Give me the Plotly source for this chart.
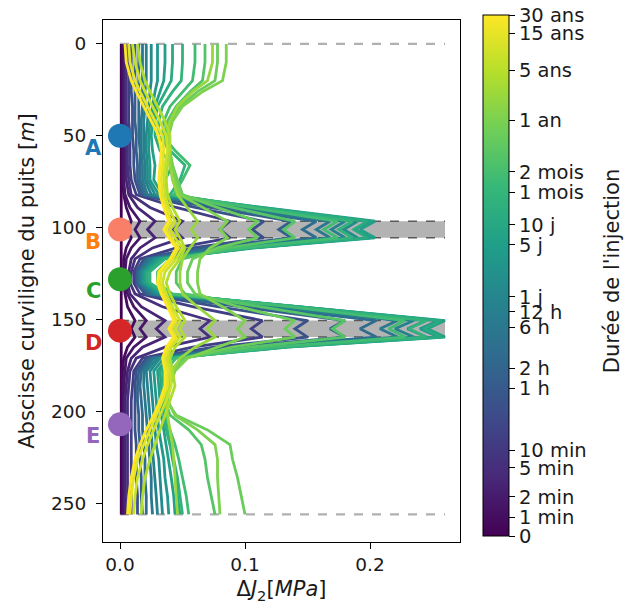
import plotly.graph_objects as go
from plotly.colors import sample_colorscale

# ---------------- data ----------------
depth = [0, 10, 20, 26, 34, 42, 50, 58, 66, 74,
         82, 89, 96.5, 101, 105.5, 111, 117, 124, 130, 136,
         143, 150.5, 155, 159.5, 165, 171, 178, 186, 194, 202,
         210, 218, 226, 236, 246, 256]

# colour position (0 = start, 1 = 30 years) of each profile
time_frac = [0.00, 0.03, 0.06, 0.10, 0.14, 0.19, 0.25, 0.30, 0.35, 0.40,
             0.44, 0.48, 0.53, 0.57, 0.61, 0.65, 0.69, 0.73, 0.77, 0.80,
             0.84, 0.88, 0.92, 0.96, 1.00]

p00 = [.001, .001, .001, .001, .001, .001, .001, .001, .001, .001,
       .001, .001, .001, .001, .001, .001, .001, .001, .001, .001,
       .001, .001, .001, .001, .001, .001, .001, .001, .001, .001,
       .001, .001, .001, .001, .001, .001]
p01 = [.002, .002, .002, .002, .002, .002, .002, .002, .002, .002,
       .003, .005, .009, .006, .009, .005, .003, .003, .003, .004,
       .006, .012, .009, .012, .006, .003, .002, .002, .002, .002,
       .002, .002, .002, .002, .002, .002]
p02 = [.003, .003, .003, .003, .003, .003, .003, .003, .003, .003,
       .004, .008, .016, .012, .016, .009, .005, .004, .004, .006,
       .011, .021, .016, .021, .011, .005, .004, .003, .003, .003,
       .003, .003, .003, .003, .003, .003]
p03 = [.004, .004, .004, .004, .004, .004, .004, .005, .005, .005,
       .007, .014, .028, .022, .028, .016, .009, .007, .006, .008,
       .017, .036, .029, .036, .018, .009, .006, .005, .004, .004,
       .004, .004, .004, .004, .004, .004]
p04 = [.005, .005, .005, .005, .005, .005, .006, .006, .006, .007,
       .009, .024, .050, .043, .050, .026, .012, .009, .008, .012,
       .034, .072, .064, .072, .036, .013, .008, .007, .006, .006,
       .006, .006, .006, .006, .006, .006]
p05 = [.007, .007, .007, .007, .007, .007, .008, .008, .008, .009,
       .013, .045, .088, .080, .088, .045, .016, .011, .011, .016,
       .058, .114, .105, .114, .058, .018, .011, .010, .009, .009,
       .009, .009, .009, .009, .009, .009]
p06 = [.009, .009, .009, .009, .010, .010, .010, .011, .011, .012,
       .016, .060, .115, .106, .115, .058, .019, .013, .013, .020,
       .078, .150, .140, .150, .075, .021, .013, .012, .012, .012,
       .012, .013, .013, .013, .014, .014]
p07 = [.012, .012, .012, .012, .012, .012, .013, .013, .014, .014,
       .018, .072, .137, .127, .137, .068, .021, .014, .014, .022,
       .095, .180, .168, .180, .090, .023, .015, .014, .014, .015,
       .015, .016, .016, .017, .017, .018]
p08 = [.015, .015, .015, .015, .015, .015, .015, .016, .016, .016,
       .020, .082, .157, .146, .157, .078, .022, .015, .015, .024,
       .108, .205, .192, .205, .102, .025, .017, .016, .017, .018,
       .018, .019, .020, .020, .021, .021]
p09 = [.018, .018, .018, .018, .018, .017, .017, .017, .018, .018,
       .022, .090, .168, .157, .168, .085, .024, .016, .016, .026,
       .118, .222, .208, .222, .110, .027, .019, .019, .020, .021,
       .022, .023, .024, .025, .025, .026]
p10 = [.021, .021, .021, .020, .020, .019, .019, .019, .020, .020,
       .025, .097, .180, .169, .180, .092, .026, .017, .017, .028,
       .126, .235, .220, .235, .118, .030, .021, .022, .023, .024,
       .025, .026, .027, .028, .029, .030]
p11 = [.025, .025, .025, .024, .023, .022, .021, .021, .022, .022,
       .028, .104, .190, .179, .190, .098, .028, .018, .018, .030,
       .134, .245, .230, .245, .125, .032, .024, .025, .026, .027,
       .028, .029, .031, .032, .033, .034]
p12 = [.030, .030, .030, .028, .026, .024, .023, .023, .024, .024,
       .031, .110, .200, .188, .200, .104, .030, .019, .019, .032,
       .142, .255, .240, .255, .130, .035, .027, .028, .029, .030,
       .031, .033, .035, .036, .038, .039]
p13 = [.036, .036, .035, .032, .028, .026, .025, .026, .028, .027,
       .034, .114, .204, .192, .204, .108, .032, .020, .020, .034,
       .146, .260, .246, .260, .134, .038, .030, .031, .032, .033,
       .035, .037, .039, .041, .043, .044]
p14 = [.042, .042, .041, .036, .030, .028, .028, .032, .042, .036,
       .037, .112, .198, .187, .198, .106, .034, .022, .022, .036,
       .145, .257, .243, .257, .133, .040, .032, .033, .034, .035,
       .037, .040, .042, .045, .046, .048]
p15 = [.050, .050, .049, .042, .034, .031, .031, .040, .052, .048,
       .040, .108, .186, .175, .186, .102, .036, .024, .024, .038,
       .140, .245, .231, .245, .128, .042, .034, .035, .036, .036,
       .038, .040, .043, .046, .048, .050]
p16 = [.060, .060, .058, .050, .040, .035, .034, .044, .056, .050,
       .043, .104, .174, .163, .174, .098, .040, .030, .030, .042,
       .135, .228, .215, .228, .122, .045, .036, .036, .036, .037,
       .040, .044, .047, .050, .053, .055]
p17 = [.068, .068, .066, .056, .045, .038, .036, .038, .042, .045,
       .046, .090, .140, .131, .140, .086, .050, .045, .045, .052,
       .112, .180, .170, .180, .104, .050, .040, .038, .036, .040,
       .055, .065, .068, .070, .073, .076]
p18 = [.078, .078, .076, .062, .048, .040, .038, .039, .042, .046,
       .050, .078, .110, .103, .110, .078, .058, .054, .054, .060,
       .095, .140, .132, .140, .090, .052, .042, .039, .037, .045,
       .070, .088, .090, .094, .097, .100]
p19 = [.085, .085, .082, .066, .050, .042, .039, .040, .042, .044,
       .048, .066, .086, .080, .086, .072, .064, .062, .062, .064,
       .082, .100, .094, .100, .078, .054, .044, .040, .038, .044,
       .062, .076, .078, .078, .079, .080]
p20 = [.074, .074, .070, .058, .046, .040, .038, .038, .040, .042,
       .046, .054, .062, .057, .062, .056, .050, .048, .048, .050,
       .062, .076, .070, .076, .060, .048, .042, .039, .037, .038,
       .040, .042, .043, .044, .045, .046]
p21 = [.014, .016, .020, .024, .030, .036, .040, .040, .038, .037,
       .038, .042, .048, .044, .048, .052, .048, .040, .037, .040,
       .045, .052, .048, .052, .044, .040, .042, .044, .040, .036,
       .032, .028, .024, .020, .018, .017]
p22 = [.010, .012, .016, .020, .026, .032, .037, .038, .036, .035,
       .036, .039, .044, .040, .044, .050, .045, .036, .034, .037,
       .042, .048, .044, .048, .041, .038, .040, .041, .037, .032,
       .027, .022, .018, .014, .012, .011]
p23 = [.007, .008, .012, .016, .022, .028, .034, .035, .034, .033,
       .034, .037, .041, .037, .041, .047, .042, .033, .032, .035,
       .040, .045, .041, .045, .039, .036, .038, .038, .034, .029,
       .024, .019, .014, .011, .009, .008]
p24 = [.004, .005, .009, .013, .019, .025, .031, .033, .032, .031,
       .032, .035, .039, .035, .039, .045, .040, .031, .030, .033,
       .038, .043, .039, .043, .037, .034, .036, .036, .032, .027,
       .021, .016, .012, .009, .007, .006]

profiles = [p00, p01, p02, p03, p04, p05, p06, p07, p08, p09, p10, p11, p12,
            p13, p14, p15, p16, p17, p18, p19, p20, p21, p22, p23, p24]

cbar_tick_pos = [0.0, 0.036, 0.075, 0.131, 0.165, 0.284, 0.322, 0.401, 0.430,
                 0.459, 0.559, 0.597, 0.660, 0.699, 0.798, 0.894, 0.965, 1.0]
cbar_tick_text = ["0", "1 min", "2 min", "5 min", "10 min", "1 h", "2 h", "6 h",
                  "12 h", "1 j", "5 j", "10 j", "1 mois", "2 mois", "1 an",
                  "5 ans", "15 ans", "30 ans"]
cbar_title = "Durée de l'injection"

point_labels = ["A", "B", "C", "D", "E"]
point_depths = [50, 101, 128, 156, 207]
point_colors = ["#1f77b4", "#fa7f68", "#2ca02c", "#d62728", "#9467bd"]
label_colors = ["#1f77b4", "#ff7f0e", "#2ca02c", "#d62728", "#9467bd"]

band_B = [96.5, 105.5]
band_D = [150.5, 159.5]
domain_limits = [0, 256]
band_xmax = 0.26

# ---------------- figure ----------------
FONT = "DejaVu Sans"
TXT = "#1a1a1a"
fig = go.Figure()

colors = sample_colorscale("Viridis", time_frac)
for prof, col in zip(profiles, colors):
    fig.add_trace(go.Scatter(x=prof, y=depth, mode="lines",
                             line=dict(color=col, width=2.8),
                             showlegend=False, hoverinfo="skip"))

# colour bar
fig.add_trace(go.Scatter(
    x=[None], y=[None], mode="markers", showlegend=False,
    marker=dict(colorscale="Viridis", cmin=0, cmax=1, color=[0], showscale=True,
                colorbar=dict(
                    x=1.064, xanchor="left", xpad=0, ypad=0,
                    y=0.5105, yanchor="middle", lenmode="pixels", len=521,
                    thickness=26, outlinewidth=1, outlinecolor="black",
                    tickvals=cbar_tick_pos, ticktext=cbar_tick_text,
                    ticks="outside", ticklen=6, tickcolor="black",
                    ticklabeloverflow="allow",
                    tickfont=dict(family=FONT, size=19.5, color=TXT),
                ))))
fig.add_annotation(xref="paper", yref="paper", x=1.426, y=0.519,
                   text=cbar_title, textangle=-90, showarrow=False,
                   xanchor="center", yanchor="middle",
                   font=dict(family=FONT, size=21, color=TXT))

# well points
fig.add_trace(go.Scatter(x=[0] * len(point_depths), y=point_depths, mode="markers",
                         marker=dict(size=24, color=point_colors),
                         showlegend=False, hoverinfo="skip", cliponaxis=False))
for lab, d, c in zip(point_labels, point_depths, label_colors):
    fig.add_annotation(x=0, y=d, text=f"<b>{lab}</b>", showarrow=False,
                       xshift=-27, yshift=-12,
                       font=dict(family=FONT, size=21, color=c))

# bands and limits
for b in (band_B, band_D):
    fig.add_shape(type="rect", x0=0, x1=band_xmax, y0=b[0], y1=b[1],
                  fillcolor="#b3b3b3", line=dict(width=0), layer="below")
    for yy in b:
        fig.add_shape(type="line", x0=0, x1=band_xmax, y0=yy, y1=yy,
                      line=dict(color="#5a5a5a", width=1.6, dash="dash"),
                      layer="below")
for yy in domain_limits:
    fig.add_shape(type="line", x0=0, x1=band_xmax, y0=yy, y1=yy,
                  line=dict(color="#b0b0b0", width=2.2, dash="dash"),
                  layer="below")

fig.update_xaxes(range=[-0.0136, 0.272], tickvals=[0, 0.1, 0.2],
                 ticktext=["0.0", "0.1", "0.2"], showgrid=False, zeroline=False,
                 showline=True, linecolor="black", linewidth=1.2, mirror=True,
                 ticks="outside", ticklen=6, tickcolor="black",
                 tickfont=dict(family=FONT, size=18.5, color=TXT),
                 title=dict(text="Δ<i>J</i><sub>2</sub>[<i>MPa</i>]",
                            font=dict(family=FONT, size=21, color=TXT),
                            standoff=7))
fig.update_yaxes(range=[271, -13], tickvals=[0, 50, 100, 150, 200, 250],
                 showgrid=False, zeroline=False,
                 showline=True, linecolor="black", linewidth=1.2, mirror=True,
                 ticks="outside", ticklen=6, tickcolor="black",
                 ticklabelstandoff=6,
                 tickfont=dict(family=FONT, size=18.5, color=TXT),
                 title=dict(text="Abscisse curviligne du puits [<i>m</i>]",
                            font=dict(family=FONT, size=21, color=TXT),
                            standoff=10))

fig.update_layout(width=625, height=601,
                  margin=dict(l=95, r=173, t=12, b=67, autoexpand=False),
                  plot_bgcolor="white", paper_bgcolor="white",
                  font=dict(family=FONT))

fig.write_html("out.html")
